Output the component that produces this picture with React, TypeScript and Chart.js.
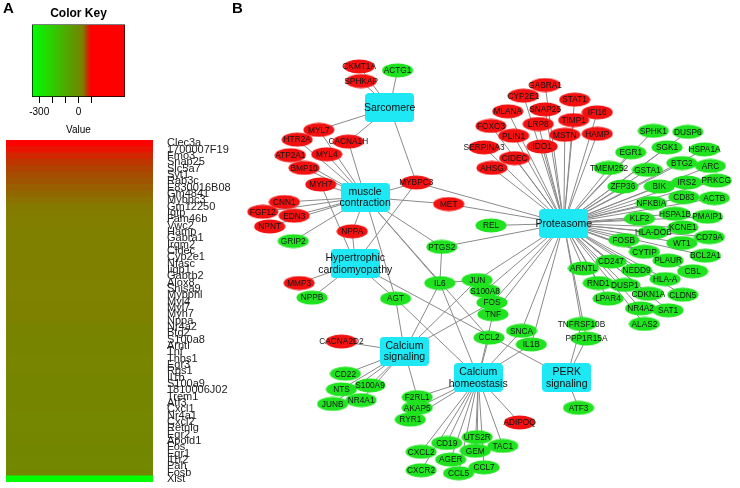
import React, { useEffect, useRef } from 'react';
import { Chart, registerables } from 'chart.js';
Chart.register(...registerables);

const FONT = '"Liberation Sans", Arial, Helvetica, sans-serif';
Chart.defaults.font.family = FONT;

// ---------- Panel A data ----------
const heatGenes = [
  'Clec3a', '1700007F19', 'Fmo3', 'Snap25', 'Slc5a7', 'Syt1', 'Rab3c', 'E830016B08', 'Gm4841', 'Mybpc3',
  'Gm12250', 'Igtp', 'Fam46b', 'Vwc2', 'Hamp', 'Gabra1', 'Irgm2', 'Cidec', 'Cyp2e1', 'Nfasc',
  'Iigp1', 'Gabrb2', 'Alox8', 'Shisa9', 'Mybphl', 'Myl4', 'Myl7', 'Myh7', 'Nppa', 'Nr4a2',
  'Btg2', 'S100a8', 'Arntl', 'Tnf', 'Thbs1', 'Egr3', 'Rgs1', 'Il1b', 'S100a9', '1810006J02',
  'Trem1', 'Atf3', 'Cxcl1', 'Nr4a1', 'Cxcl2', 'Retnlg', 'Egr2', 'Apold1', 'Fos', 'Egr1',
  'Il1r2', 'Pah', 'Fosb', 'Xist',
];
const heatValues = [
  120, 82, 74, 68, 63, 58, 53, 48, 43, 38,
  34, 32, 31, 31, 30, 30, 30, 30, 29, 29,
  29, 29, 28, 28, 28, 27, 27, 27, 26, 18,
  18, 17, 17, 17, 16, 16, 16, 15, 15, 15,
  14, 14, 14, 13, 13, 13, 12, 12, 11, 11,
  10, 10, 9, -355,
];
const keyMin = -355;
const keyMax = 355;
const keyTicks = [-300, -200, -100, 0, 100];
const keyTickLabels = ['-300', '', '', '0', ''];
const colorStopValues = [-355, 0, 30, 60, 90, 355];
const colorStopRGB = [
  [0, 255, 0], [108, 138, 0], [128, 128, 0], [168, 72, 0], [255, 0, 0], [255, 0, 0],
];

function valueColor(v: number): string {
  const s = colorStopValues;
  let i = 0;
  while (i < s.length - 2 && v > s[i + 1]) i++;
  const t = Math.max(0, Math.min(1, (v - s[i]) / (s[i + 1] - s[i])));
  const a = colorStopRGB[i], b = colorStopRGB[i + 1];
  const c = a.map((av, k) => Math.round(av + (b[k] - av) * t));
  return `rgb(${c[0]},${c[1]},${c[2]})`;
}

// ---------- Panel B data ----------
const upGenes: [string, number, number][] = [
  ['CKMT1A', 359, 62], ['SPHKAP', 361, 77], ['MYL7', 318, 127], ['HTR2A', 296, 137], ['CACNA1H', 348, 139],
  ['ATP2A1', 289, 153], ['MYL4', 326, 152], ['BMP10', 303, 166], ['MYH7', 320, 183], ['MYBPC3', 417, 181],
  ['MET', 450, 203], ['CNN1', 283, 201], ['FGF12', 261, 211], ['EDN3', 293, 215], ['NPNT', 268, 226],
  ['NPPA', 352, 231], ['MMP3', 298, 284], ['CACNA2D2', 341, 344], ['ADIPOQ', 522, 427],
  ['GABRA1', 548, 81], ['CYP2E1', 526, 92], ['STAT1', 578, 96], ['MLANA', 510, 108], ['SNAP25', 548, 106],
  ['IFI16', 601, 109], ['TIMP1', 577, 117], ['FOXO3', 493, 123], ['LRP8', 541, 121], ['PLIN1', 516, 133],
  ['MSTN', 568, 132], ['HAMP', 601, 131], ['SERPINA3', 486, 145], ['IDO1', 545, 144], ['CIDEC', 517, 156],
  ['AHSG', 494, 166],
];
const downGenes: [string, number, number][] = [
  ['ACTG1', 398, 66], ['GRIP2', 292, 241], ['NPPB', 311, 299], ['AGT', 396, 300], ['PTGS2', 443, 247],
  ['IL6', 441, 284], ['REL', 493, 225], ['JUN', 479, 281], ['S100A8', 487, 292], ['FOS', 494, 304],
  ['TNF', 495, 316], ['CCL2', 491, 340], ['SNCA', 524, 333], ['IL1B', 534, 347],
  ['SPHK1', 658, 128], ['DUSP6', 693, 129], ['EGR1', 635, 150], ['SGK1', 672, 145], ['HSPA1A', 710, 147],
  ['TMEM252', 613, 166], ['GSTA1', 652, 168], ['BTG2', 687, 161], ['ARC', 716, 164], ['ZFP36', 627, 185],
  ['BIK', 664, 185], ['IRS2', 692, 181], ['PRKCG', 722, 179], ['NFKBIA', 656, 202], ['CD83', 689, 196],
  ['ACTB', 720, 197], ['KLF2', 644, 218], ['HSPA1B', 680, 213], ['PMAIP1', 713, 216], ['KCNE1', 688, 227],
  ['HLA-DOB', 658, 232], ['CD79A', 715, 237], ['FOSB', 628, 240], ['WT1', 687, 243], ['BCL2A1', 711, 256],
  ['CYTIP', 649, 252], ['PLAUR', 673, 261], ['CBL', 698, 272], ['CD247', 615, 262], ['ARNTL', 587, 269],
  ['NEDD9', 641, 271], ['HLA-A', 670, 280], ['RND1', 602, 284], ['DUSP1', 629, 286], ['CDKN1A', 653, 295],
  ['CLDN5', 688, 296], ['LPAR4', 612, 300], ['NR4A2', 645, 310], ['SAT1', 673, 312], ['ALAS2', 649, 326],
  ['TNFRSF10B', 585, 326], ['PPP1R15A', 590, 341], ['ATF3', 582, 412],
  ['CD22', 345, 377], ['S100A9', 370, 389], ['NTS', 341, 393], ['NR4A1', 361, 404], ['JUNB', 332, 408],
  ['F2RL1', 418, 401], ['AKAP5', 418, 412], ['RYR1', 411, 424], ['UTS2R', 479, 442], ['CD19', 448, 448],
  ['TAC1', 505, 451], ['CXCL2', 422, 457], ['GEM', 477, 456], ['AGER', 452, 465], ['CCL7', 486, 473],
  ['CXCR2', 422, 476], ['CCL5', 460, 479],
];
const pathways: [string, number, number][] = [
  ['Sarcomere', 390, 104], ['muscle\ncontraction', 365, 196], ['Hypertrophic\ncardiomyopathy', 355, 264],
  ['Proteasome', 567, 223], ['Calcium\nsignaling', 405, 354], ['Calcium\nhomeostasis', 480, 381],
  ['PERK\nsignaling', 570, 381],
];
const sarcomereLinks = ['CKMT1A', 'SPHKAP', 'ACTG1', 'MYL7', 'CACNA1H', 'MYBPC3'];
const muscleLinks = ['MYL7', 'HTR2A', 'ATP2A1', 'MYL4', 'CACNA1H', 'BMP10', 'MYH7', 'CNN1', 'FGF12', 'EDN3',
  'NPNT', 'GRIP2', 'NPPA', 'MYBPC3', 'MET', 'PTGS2', 'IL6', 'AGT', 'CCL2'];
const hcmLinks = ['NPPA', 'MYH7', 'MYBPC3', 'MMP3', 'NPPB', 'AGT', 'PERK\nsignaling'];
const proteasomeLinks = ['GABRA1', 'CYP2E1', 'STAT1', 'MLANA', 'SNAP25', 'IFI16', 'TIMP1', 'FOXO3', 'LRP8',
  'PLIN1', 'MSTN', 'HAMP', 'SERPINA3', 'IDO1', 'CIDEC', 'AHSG', 'MET', 'MYBPC3', 'REL', 'PTGS2', 'JUN',
  'S100A8', 'FOS', 'TNF', 'SNCA', 'IL1B', 'ARNTL', 'TNFRSF10B', 'PPP1R15A', 'CD247', 'RND1', 'LPAR4', 'DUSP1',
  'NR4A2', 'ALAS2', 'SAT1', 'CDKN1A', 'CLDN5', 'HLA-A', 'NEDD9', 'CBL', 'PLAUR', 'CYTIP', 'BCL2A1', 'WT1',
  'FOSB', 'CD79A', 'HLA-DOB', 'KCNE1', 'KLF2', 'HSPA1B', 'PMAIP1', 'NFKBIA', 'CD83', 'ACTB', 'ZFP36', 'BIK',
  'IRS2', 'PRKCG', 'TMEM252', 'GSTA1', 'BTG2', 'ARC', 'EGR1', 'SGK1', 'HSPA1A', 'SPHK1', 'DUSP6'];
const caSignalingLinks = ['CACNA2D2', 'CD22', 'S100A9', 'NTS', 'NR4A1', 'JUNB', 'F2RL1', 'AGT', 'IL6', 'JUN', 'FOS'];
const caHomeostasisLinks = ['CCL2', 'IL1B', 'SNCA', 'F2RL1', 'AKAP5', 'RYR1', 'UTS2R', 'CD19', 'TAC1', 'CXCL2',
  'GEM', 'AGER', 'CCL7', 'CXCR2', 'CCL5', 'ADIPOQ', 'IL6', 'AGT', 'TNF'];
const perkLinks = ['ATF3', 'PPP1R15A', 'TNFRSF10B'];
const geneLinks: [string, string][] = [['PTGS2', 'IL6'], ['IL6', 'JUN']];

const RED = '#f21010';
const GREEN = '#1fe31f';
const CYAN = '#1ee8f4';
const EDGE = '#8a8a8a';

function ellipseImage(color: string) {
  const c = document.createElement('canvas');
  c.width = 32; c.height = 15;
  const g = c.getContext('2d')!;
  g.fillStyle = color;
  g.beginPath();
  g.ellipse(16, 7.5, 15.5, 7, 0, 0, Math.PI * 2);
  g.fill();
  return c;
}
function boxImage(color: string) {
  const c = document.createElement('canvas');
  c.width = 49; c.height = 29;
  const g = c.getContext('2d')!;
  g.fillStyle = color;
  g.beginPath();
  (g as any).roundRect(0, 0, 49, 29, 4);
  g.fill();
  return c;
}

const labelPlugin = {
  id: 'nodeLabels',
  afterDatasetsDraw(chart: any) {
    const ctx = chart.ctx;
    chart.data.datasets.forEach((ds: any, di: number) => {
      if (!ds.nodeNames) return;
      const meta = chart.getDatasetMeta(di);
      ctx.save();
      ctx.textAlign = 'center';
      ctx.textBaseline = 'middle';
      meta.data.forEach((el: any, i: number) => {
        const lines = String(ds.nodeNames[i]).split('\n');
        ctx.fillStyle = ds.textColor;
        ctx.font = `${ds.textSize}px ${FONT}`;
        const lh = ds.textSize * 1.08;
        lines.forEach((ln: string, k: number) => {
          ctx.fillText(ln, el.x, el.y + (k - (lines.length - 1) / 2) * lh + 0.5);
        });
      });
      ctx.restore();
    });
  },
};

function ColorKey() {
  const ref = useRef<HTMLCanvasElement>(null);
  useEffect(() => {
    const chart = new Chart(ref.current!, {
      type: 'bar',
      data: {
        labels: ['key'],
        datasets: [{
          data: [[keyMin, keyMax]] as any,
          backgroundColor: (ctx: any) => {
            const ca = ctx.chart.chartArea;
            if (!ca) return '#888';
            const g = ctx.chart.ctx.createLinearGradient(ca.left, 0, ca.right, 0);
            colorStopValues.forEach((v) => g.addColorStop((v - keyMin) / (keyMax - keyMin), valueColor(v)));
            return g;
          },
          borderColor: '#000',
          borderWidth: 1,
          borderSkipped: false,
          barPercentage: 1,
          categoryPercentage: 1,
        }],
      },
      options: {
        indexAxis: 'y',
        animation: false,
        responsive: false,
        layout: { padding: { left: 32, right: 32, top: 0, bottom: 0 } },
        plugins: {
          legend: { display: false },
          tooltip: { enabled: false },
          title: {
            display: true, text: 'Color Key', color: '#000',
            font: { size: 12, weight: 'bold', family: FONT }, padding: { top: 6, bottom: 4 },
          },
        },
        scales: {
          x: {
            type: 'linear', min: keyMin, max: keyMax,
            afterBuildTicks: (s: any) => { s.ticks = keyTicks.map((v) => ({ value: v })); },
            ticks: {
              autoSkip: false, maxRotation: 0, color: '#000', font: { size: 10 }, padding: 3,
              callback: (v: any) => keyTickLabels[keyTicks.indexOf(Number(v))] ?? '',
            },
            grid: { drawOnChartArea: false, drawTicks: true, tickLength: 6, color: '#000' },
            border: { display: false },
            title: { display: true, text: 'Value', color: '#000', font: { size: 10 }, padding: { top: 3, bottom: 0 } },
          },
          y: { display: false },
        },
      } as any,
    });
    return () => chart.destroy();
  }, []);
  return <canvas ref={ref} width={157} height={136} style={{ position: 'absolute', left: 0, top: 0, width: 157, height: 136 }} />;
}

function Heatmap() {
  const ref = useRef<HTMLCanvasElement>(null);
  useEffect(() => {
    const colors = heatValues.map(valueColor);
    const chart = new Chart(ref.current!, {
      type: 'bar',
      data: {
        labels: heatGenes,
        datasets: [{
          data: heatGenes.map(() => [0, 1]) as any,
          backgroundColor: colors,
          borderWidth: 0,
          barPercentage: 1.08,
          categoryPercentage: 1,
        }],
      },
      options: {
        indexAxis: 'y',
        animation: false,
        responsive: false,
        layout: { padding: { left: 6, top: 6, bottom: 6, right: 0 } },
        plugins: { legend: { display: false }, tooltip: { enabled: false } },
        scales: {
          x: { display: false, min: 0, max: 1 },
          y: {
            position: 'right',
            grid: { display: false, drawTicks: false },
            border: { display: false },
            ticks: { autoSkip: false, color: '#222', font: { size: 11, lineHeight: 1 }, padding: 14 },
            afterFit: (s: any) => {
              s.width = 80;
              s.paddingTop = 0;
              s.paddingBottom = 0;
            },
          },
        },
      } as any,
    });
    return () => chart.destroy();
  }, []);
  return <canvas ref={ref} width={233} height={354} style={{ position: 'absolute', left: 0, top: 134, width: 233, height: 354 }} />;
}

function Network() {
  const ref = useRef<HTMLCanvasElement>(null);
  useEffect(() => {
    const pos: Record<string, [number, number]> = {};
    [...upGenes, ...downGenes, ...pathways].forEach(([n, x, y]) => { pos[n] = [x, y]; });
    const links: [string, string][] = [];
    const add = (hub: string, list: string[]) => list.forEach((g) => links.push([hub, g]));
    add('Sarcomere', sarcomereLinks);
    add('muscle\ncontraction', muscleLinks);
    add('Hypertrophic\ncardiomyopathy', hcmLinks);
    add('Proteasome', proteasomeLinks);
    add('Calcium\nsignaling', caSignalingLinks);
    add('Calcium\nhomeostasis', caHomeostasisLinks);
    add('PERK\nsignaling', perkLinks);
    geneLinks.forEach((l) => links.push(l));
    const edgeData: any[] = [];
    links.forEach(([a, b]) => {
      if (!pos[a] || !pos[b]) return;
      edgeData.push({ x: pos[a][0], y: pos[a][1] }, { x: pos[b][0], y: pos[b][1] }, { x: null, y: null });
    });
    const redImg = ellipseImage(RED);
    const greenImg = ellipseImage(GREEN);
    const cyanImg = boxImage(CYAN);
    const genes = [...upGenes.map((g) => [...g, 'up']), ...downGenes.map((g) => [...g, 'down'])] as any[];
    const chart = new Chart(ref.current!, {
      type: 'scatter',
      data: {
        datasets: [
          {
            data: pathways.map(([, x, y]) => ({ x, y })),
            pointStyle: pathways.map(() => cyanImg),
            pointRadius: 5,
            order: 0,
            nodeNames: pathways.map(([n]) => n),
            textColor: '#111',
            textSize: 10.5,
          } as any,
          {
            data: genes.map((g) => ({ x: g[1], y: g[2] })),
            pointStyle: genes.map((g) => (g[3] === 'up' ? redImg : greenImg)),
            pointRadius: 5,
            order: 1,
            nodeNames: genes.map((g) => g[0]),
            textColor: '#151515',
            textSize: 8.3,
          } as any,
          {
            data: edgeData,
            showLine: true,
            spanGaps: false,
            pointRadius: 0,
            borderColor: EDGE,
            borderWidth: 1,
            order: 2,
          } as any,
        ],
      },
      options: {
        animation: false,
        responsive: false,
        layout: { padding: 0 },
        plugins: { legend: { display: false }, tooltip: { enabled: false } },
        scales: {
          x: { type: 'linear', min: 0, max: 740, display: false },
          y: { type: 'linear', min: 0, max: 488, reverse: true, display: false },
        },
      } as any,
      plugins: [labelPlugin],
    });
    return () => chart.destroy();
  }, []);
  return <canvas ref={ref} width={740} height={488} style={{ position: 'absolute', left: 0, top: 0, width: 740, height: 488 }} />;
}

export default function App() {
  return (
    <div style={{ position: 'fixed', left: 0, top: 0, width: 740, height: 488, background: '#fff', overflow: 'hidden', fontFamily: FONT }}>
      <Heatmap />
      <ColorKey />
      <Network />
      <div style={{ position: 'absolute', left: 3, top: -1, fontSize: 15, fontWeight: 'bold', color: '#000' }}>A</div>
      <div style={{ position: 'absolute', left: 232, top: -1, fontSize: 15, fontWeight: 'bold', color: '#000' }}>B</div>
    </div>
  );
}
